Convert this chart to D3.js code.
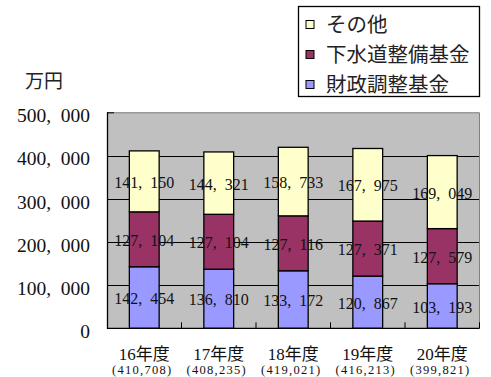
<!DOCTYPE html>
<html>
<head>
<meta charset="utf-8">
<script src="https://cdn.jsdelivr.net/npm/d3@7"></script>
<style>
  body { margin: 0; background: #fff; }
  svg { display: block; }
  .num { font-family: "Liberation Serif", "DejaVu Serif", serif; }
  .jp { font-family: "Liberation Serif", "Noto Sans CJK JP", sans-serif; }
</style>
</head>
<body>
<svg id="chart" width="491" height="377"></svg>
<script>
// 年度と各基金の残高（万円）
const years = ["16年度", "17年度", "18年度", "19年度", "20年度"];
const zaisei = [142454, 136810, 133172, 120867, 103193];   // 財政調整基金
const gesuido = [127104, 127104, 127116, 127371, 127579];  // 下水道整備基金
const sonota = [141150, 144321, 158733, 167975, 169049];   // その他
const seriesNames = ["財政調整基金", "下水道整備基金", "その他"];
const seriesColors = ["#9999FF", "#993366", "#FFFFCC"];
const yTicks = [0, 100000, 200000, 300000, 400000, 500000];

const rows = years.map((y, i) => ({ year: y, s0: zaisei[i], s1: gesuido[i], s2: sonota[i] }));

const svg = d3.select("#chart");
const plot = { left: 107, right: 479.5, top: 112.3, bottom: 328.3 };

const x = d3.scaleBand()
    .domain(years)
    .range([plot.left, plot.right])
    .paddingInner(0.6)
    .paddingOuter(0.3);
const xCat = d3.scaleBand().domain(years).range([plot.left, plot.right]);
const y = d3.scaleLinear().domain([0, 500000]).range([plot.bottom, plot.top]);

// 数値表示（カンマの後に空き）
const fmt = d3.format(",");
const wide = v => fmt(v).replace(",", ",\u00a0\u00a0");

// 背景
svg.append("rect")
    .attr("x", plot.left).attr("y", plot.top)
    .attr("width", plot.right - plot.left).attr("height", plot.bottom - plot.top)
    .attr("fill", "#C0C0C0");

// 目盛線
svg.append("g").selectAll("line")
    .data(yTicks.filter(d => d > 0 && d < 500000))
    .join("line")
    .attr("x1", plot.left).attr("x2", plot.right)
    .attr("y1", d => Math.round(y(d)) + 0.5).attr("y2", d => Math.round(y(d)) + 0.5)
    .attr("stroke", "#000").attr("stroke-width", 1);

// 枠（上・右は灰色）
svg.append("path")
    .attr("d", `M${plot.left},${plot.top + 0.5}H${plot.right}V${plot.bottom}`)
    .attr("fill", "none").attr("stroke", "#808080");
svg.append("line")
    .attr("x1", plot.left).attr("x2", plot.left + 7)
    .attr("y1", plot.top + 0.5).attr("y2", plot.top + 0.5)
    .attr("stroke", "#000");

// 積み上げ
const stack = d3.stack().keys(["s0", "s1", "s2"]);
const layers = stack(rows);

const g = svg.append("g");
layers.forEach((layer, li) => {
    g.selectAll(".bar" + li)
        .data(layer)
        .join("rect")
        .attr("x", d => x(d.data.year))
        .attr("y", d => y(d[1]))
        .attr("width", x.bandwidth())
        .attr("height", d => y(d[0]) - y(d[1]))
        .attr("fill", seriesColors[li])
        .attr("stroke", "#000")
        .attr("stroke-width", 1.3);
});

// データラベル
layers.forEach((layer, li) => {
    g.selectAll(".lbl" + li)
        .data(layer)
        .join("text")
        .attr("class", "num")
        .attr("x", d => x(d.data.year) + x.bandwidth() / 2)
        .attr("y", d => (y(d[0]) + y(d[1])) / 2 + 1)
        .attr("dy", "0.35em")
        .attr("text-anchor", "middle")
        .attr("font-size", 16)
        .attr("fill", "#111")
        .text(d => wide(d[1] - d[0]));
});

// 軸線
svg.append("line")
    .attr("x1", plot.left + 0.5).attr("x2", plot.left + 0.5)
    .attr("y1", plot.top).attr("y2", plot.bottom + 0.5)
    .attr("stroke", "#000").attr("stroke-width", 1.3);
svg.append("line")
    .attr("x1", plot.left).attr("x2", plot.right)
    .attr("y1", plot.bottom).attr("y2", plot.bottom)
    .attr("stroke", "#000").attr("stroke-width", 1.3);
svg.append("g").selectAll("line")
    .data(years)
    .join("line")
    .attr("x1", d => xCat(d) + xCat.bandwidth()).attr("x2", d => xCat(d) + xCat.bandwidth())
    .attr("y1", plot.bottom).attr("y2", plot.bottom - 6)
    .attr("stroke", "#000");

// Y軸ラベル
svg.append("g").selectAll("text")
    .data(yTicks)
    .join("text")
    .attr("class", "num")
    .attr("x", 90)
    .attr("y", d => y(d) + 3)
    .attr("dy", "0.35em")
    .attr("text-anchor", "end")
    .attr("font-size", 19.5)
    .attr("fill", "#111")
    .text(d => wide(d));

svg.append("text")
    .attr("class", "jp")
    .attr("x", 25).attr("y", 81)
    .attr("dy", "0.35em")
    .attr("font-size", 19)
    .attr("fill", "#222")
    .text("万円");

// X軸ラベル
const xl = svg.append("g");
xl.selectAll(".yr")
    .data(rows)
    .join("text")
    .attr("class", "jp")
    .attr("x", d => xCat(d.year) + xCat.bandwidth() / 2)
    .attr("y", 354)
    .attr("dy", "0.35em")
    .attr("text-anchor", "middle")
    .attr("font-size", 17)
    .attr("fill", "#111")
    .text(d => d.year);
xl.selectAll(".tot")
    .data(rows)
    .join("text")
    .attr("class", "num")
    .attr("x", d => xCat(d.year) + xCat.bandwidth() / 2 - 2)
    .attr("y", 370)
    .attr("dy", "0.35em")
    .attr("text-anchor", "middle")
    .attr("font-size", 12.5)
    .attr("letter-spacing", 1.3)
    .attr("fill", "#111")
    .text(d => "(" + fmt(d.s0 + d.s1 + d.s2) + ")");

// 凡例
const legend = svg.append("g");
legend.append("rect")
    .attr("x", 298.5).attr("y", 6.5).attr("width", 181).attr("height", 90)
    .attr("fill", "#fff").attr("stroke", "#000").attr("stroke-width", 1.3);
const legendItems = [2, 1, 0];
legendItems.forEach((si, i) => {
    const cy = 24.5 + i * 30;
    legend.append("rect")
        .attr("x", 306).attr("y", cy - 4)
        .attr("width", 8).attr("height", 8)
        .attr("fill", seriesColors[si]).attr("stroke", "#000");
    legend.append("text")
        .attr("class", "jp")
        .attr("x", 326).attr("y", cy)
        .attr("dy", "0.35em")
        .attr("font-size", 20.5)
        .attr("fill", "#222")
        .text(seriesNames[si]);
});
</script>
</body>
</html>
